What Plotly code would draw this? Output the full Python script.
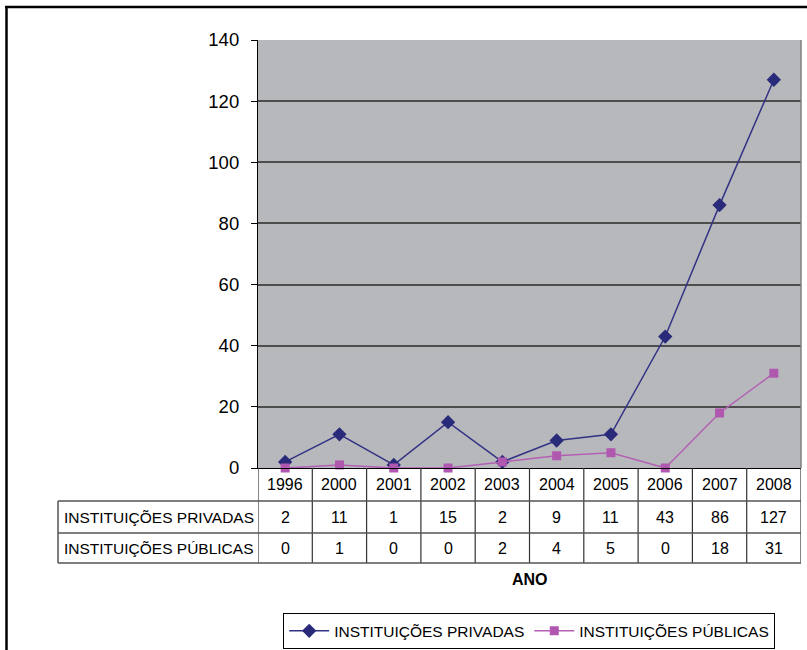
import plotly.graph_objects as go

years = ["1996", "2000", "2001", "2002", "2003", "2004", "2005", "2006", "2007", "2008"]
privadas = [2, 11, 1, 15, 2, 9, 11, 43, 86, 127]
publicas = [0, 1, 0, 0, 2, 4, 5, 0, 18, 31]
series_names = ["INSTITUIÇÕES PRIVADAS", "INSTITUIÇÕES PÚBLICAS"]
y_ticks = [0, 20, 40, 60, 80, 100, 120, 140]
x_title = "ANO"

W, H = 807, 650
L, R, T, B = 258, 6, 40, 182
PW, PH = W - L - R, H - T - B
FONT = "Liberation Sans, Arial, sans-serif"

def px(xp):
    return (xp - L) / PW

def py(yp):
    return (H - B - yp) / PH

xs = list(range(len(years)))

fig = go.Figure()
fig.add_trace(go.Scatter(
    x=xs, y=privadas, name=series_names[0], mode="lines+markers",
    line=dict(color="#333385", width=1.5),
    marker=dict(symbol="diamond", size=11, color="#2a2a7a"),
    cliponaxis=False,
))
fig.add_trace(go.Scatter(
    x=xs, y=publicas, name=series_names[1], mode="lines+markers",
    line=dict(color="#b460b4", width=1.5),
    marker=dict(symbol="square", size=9, color="#b058b0"),
    cliponaxis=False,
))

shapes = []
anns = []
line_col = "#333333"
# table rows (pixel y)
y_top, y_r1, y_r2, y_bot = 468, 501, 533, 563
x_left = 58
n = len(years)
# vertical column lines
for k in range(n + 1):
    xk = k - 0.5
    shapes.append(dict(type="line", xref="x", yref="paper", x0=xk, x1=xk,
                       y0=py(y_top), y1=py(y_bot), line=dict(color=line_col, width=1.2)))
# horizontal lines
for yy in (y_r1, y_r2, y_bot):
    shapes.append(dict(type="line", xref="paper", yref="paper", x0=px(x_left), x1=1,
                       y0=py(yy), y1=py(yy), line=dict(color="#555555", width=1.5)))
shapes.append(dict(type="line", xref="paper", yref="paper", x0=px(x_left), x1=px(x_left),
                   y0=py(y_r1), y1=py(y_bot), line=dict(color="#555555", width=1.5)))
# outer chart border (top and left)
shapes.append(dict(type="line", xref="paper", yref="paper", x0=px(5), x1=px(W + 5),
                   y0=py(7), y1=py(7), line=dict(color="black", width=2.5)))
shapes.append(dict(type="line", xref="paper", yref="paper", x0=px(6.5), x1=px(6.5),
                   y0=py(6), y1=py(H + 5), line=dict(color="black", width=2.5)))
# right border of plot area
shapes.append(dict(type="line", xref="paper", yref="paper", x0=1, x1=1,
                   y0=py(40), y1=py(468), line=dict(color="#808080", width=1.5)))

cell_font = dict(family=FONT, size=16, color="black")
for i, yr in enumerate(years):
    anns.append(dict(x=i, y=py((y_top + y_r1) / 2), xref="x", yref="paper", text=yr,
                     showarrow=False, font=cell_font, xanchor="center", yanchor="middle"))
    anns.append(dict(x=i, y=py((y_r1 + y_r2) / 2), xref="x", yref="paper", text=str(privadas[i]),
                     showarrow=False, font=cell_font, xanchor="center", yanchor="middle"))
    anns.append(dict(x=i, y=py((y_r2 + y_bot) / 2), xref="x", yref="paper", text=str(publicas[i]),
                     showarrow=False, font=cell_font, xanchor="center", yanchor="middle"))
lab_font = dict(family=FONT, size=15.5, color="black")
anns.append(dict(x=px(62), y=py((y_r1 + y_r2) / 2), xref="paper", yref="paper", text=series_names[0],
                 showarrow=False, font=lab_font, xanchor="left", yanchor="middle"))
anns.append(dict(x=px(62), y=py((y_r2 + y_bot) / 2), xref="paper", yref="paper", text=series_names[1],
                 showarrow=False, font=lab_font, xanchor="left", yanchor="middle"))
anns.append(dict(x=px(530), y=py(579), xref="paper", yref="paper", text="<b>" + x_title + "</b>",
                 showarrow=False, font=dict(family=FONT, size=16, color="black"),
                 xanchor="center", yanchor="middle"))

fig.update_layout(
    width=W, height=H,
    margin=dict(l=L, r=R, t=T, b=B, autoexpand=False),
    paper_bgcolor="white",
    plot_bgcolor="#b7b8bc",
    font=dict(family=FONT, size=16, color="black"),
    xaxis=dict(range=[-0.5, n - 0.5], showticklabels=False, showgrid=False, zeroline=False,
               showline=True, linecolor="black", linewidth=1, ticks=""),
    yaxis=dict(range=[0, 140], tickvals=y_ticks, showgrid=True, gridcolor="#4d4d4d", gridwidth=1.5,
               zeroline=False, showline=True, linecolor="black", linewidth=1.2,
               ticks="outside", ticklen=6, tickcolor="black", tickwidth=1.2,
               tickfont=dict(family=FONT, size=18.5, color="black"), ticklabelstandoff=8),
    showlegend=True,
    legend=dict(orientation="h", x=px(283), y=py(613), xanchor="left", yanchor="top",
                bordercolor="black", borderwidth=1.2, bgcolor="white",
                font=dict(family=FONT, size=15.5, color="black"),
                tracegroupgap=0, itemwidth=40),
    shapes=shapes,
    annotations=anns,
)

fig.write_html("out.html")
